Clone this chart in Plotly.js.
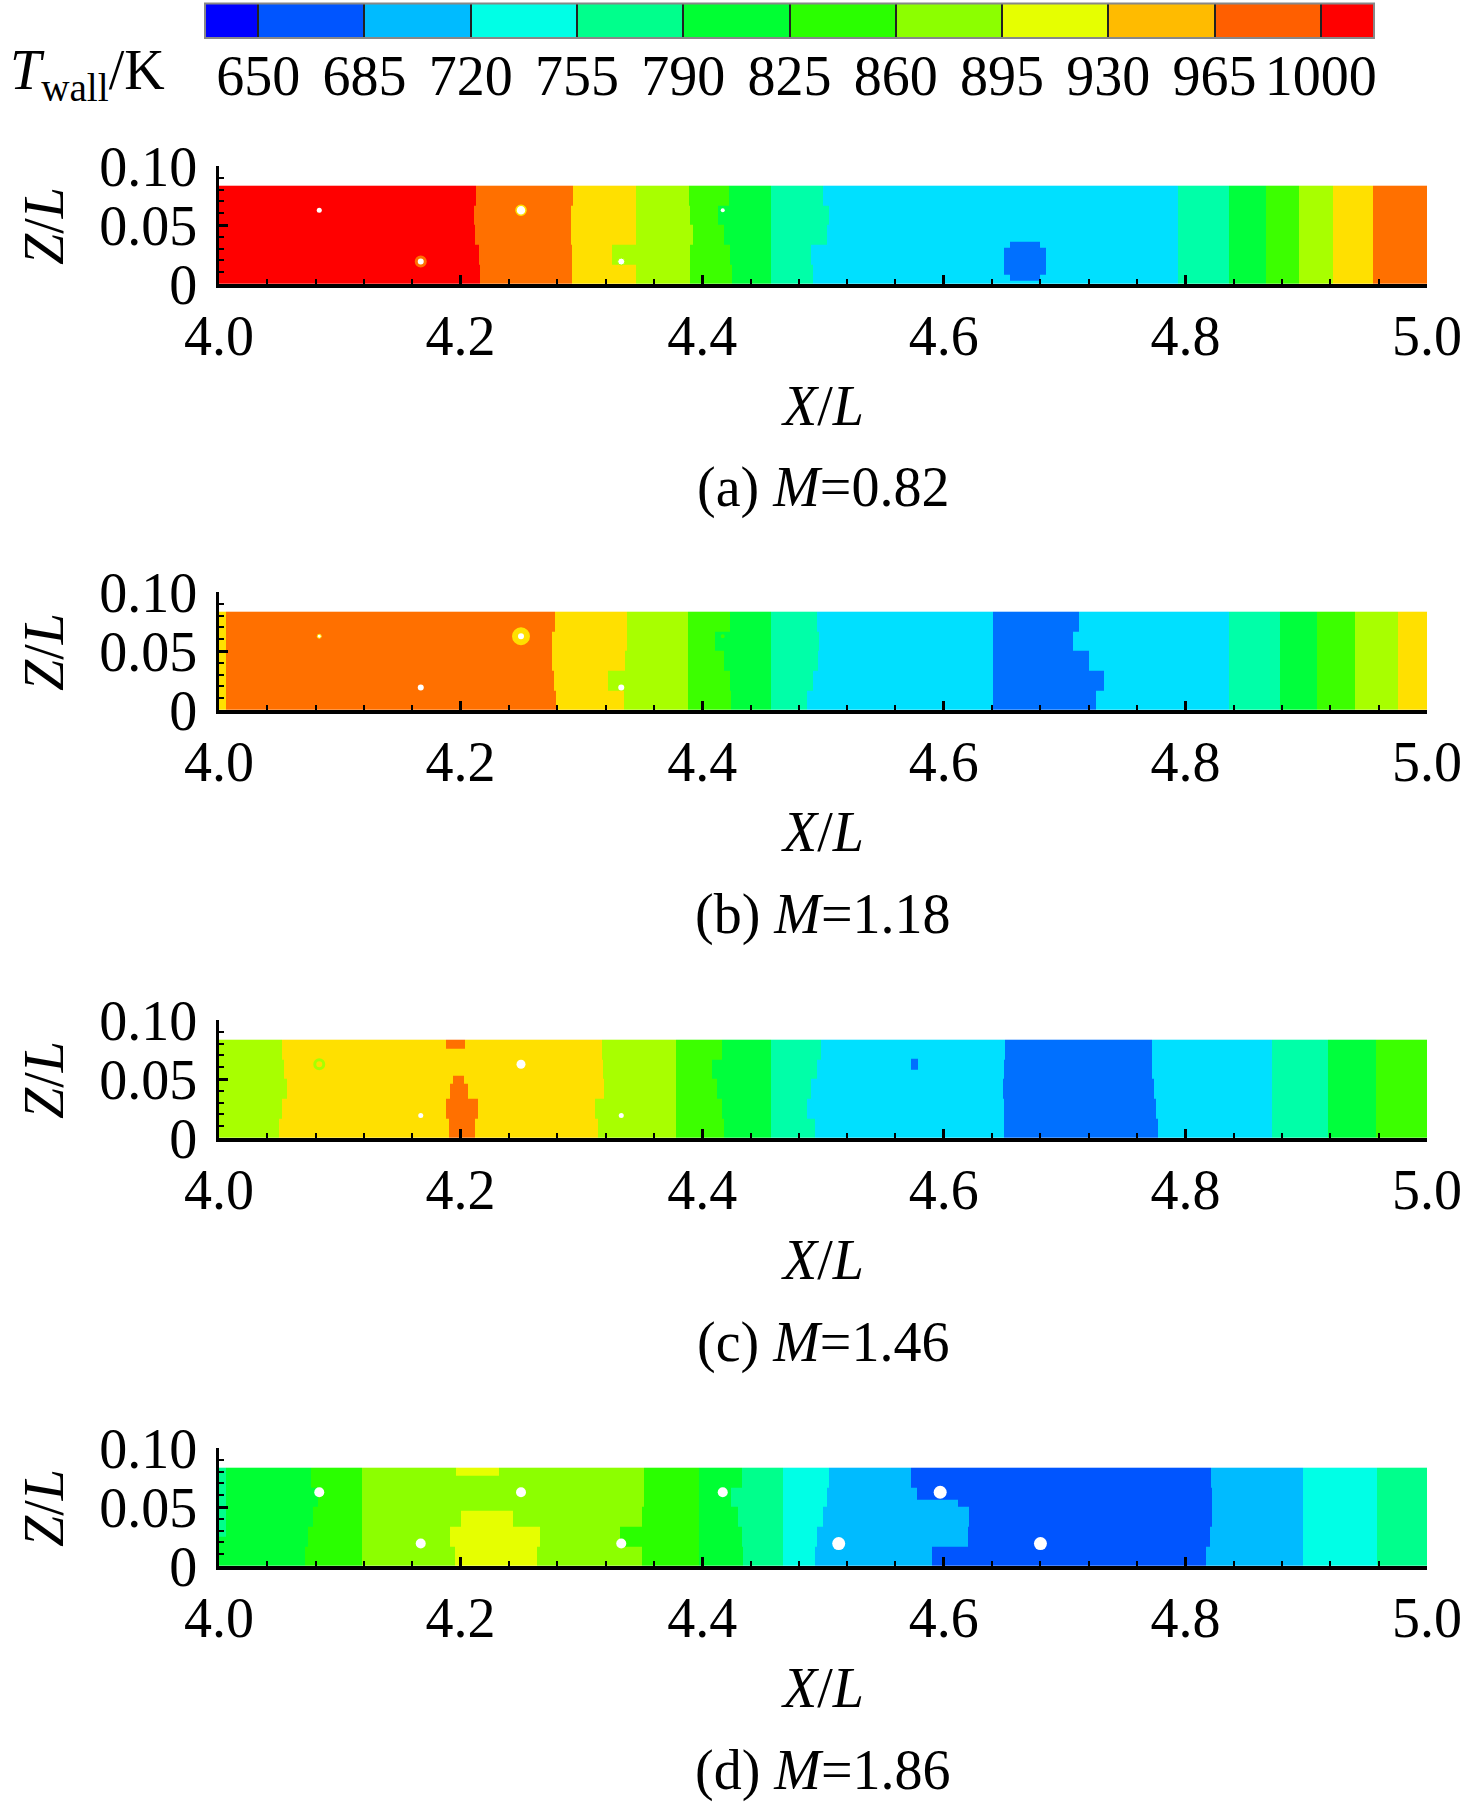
<!DOCTYPE html>
<html>
<head>
<meta charset="utf-8">
<script src="https://cdn.plot.ly/plotly-3.0.1.min.js"></script>
<style>html,body{margin:0;padding:0;background:#fff;}#chart{width:1476px;height:1808px;}</style>
</head>
<body>
<div id="chart"></div>
<script>
// ---------------- DATA ----------------
// Legend levels (K)
const LEVELS = [650, 685, 720, 755, 790, 825, 860, 895, 930, 965, 1000];
const LEGEND_COLORS = ['#0000FF','#0055FF','#00BBFF','#00FFE6','#00FF8C','#00FF33','#2AFF00','#8CFF00','#E6FF00','#FFBB00','#FF5F00','#FF0000'];
// shades used for the same bins in panels (a)-(c)
const PANEL_ABC_COLORS = ['#0000FF','#0000FF','#0038FF','#0070FF','#00E0FF','#00FFA8','#00FF3C','#3CFF00','#A8FF00','#FFE000','#FF7000','#FF0000'];

const ROW_EDGES = [0, 0.0167, 0.0333, 0.05, 0.0667, 0.0833]; // Z/L rows (bottom -> top)

// (a) M=0.82 : band temperature and its right-hand X/L edge in each row
const A_TEMPS = [1010, 982, 947, 912, 877, 842, 807, 772, 807, 842, 877, 912, 947, 982];
const A_ENDS = [
  [4.216, 4.215, 4.212, 4.211, 4.213],
  [4.292, 4.292, 4.291, 4.291, 4.293],
  [4.345, 4.325, 4.345, 4.345, 4.345],
  [4.390, 4.390, 4.392, 4.390, 4.389],
  [4.425, 4.423, 4.418, 4.413, 4.422],
  [4.457, 4.457, 4.457, 4.457, 4.457],
  [4.492, 4.490, 4.503, 4.505, 4.500],
  [4.794, 4.794, 4.794, 4.794, 4.794],
  [4.836, 4.836, 4.836, 4.836, 4.836],
  [4.867, 4.867, 4.867, 4.867, 4.867],
  [4.894, 4.894, 4.894, 4.894, 4.894],
  [4.922, 4.922, 4.922, 4.922, 4.922],
  [4.955, 4.955, 4.955, 4.955, 4.955],
  [5.000, 5.000, 5.000, 5.000, 5.000]
];
const A_PATCHES = [ // [x0, x1, z0, z1, T]
  [4.655, 4.680, 0.003, 0.036, 737],
  [4.650, 4.685, 0.008, 0.031, 737]
];

// (b) M=1.18
const B_TEMPS = [947, 982, 947, 912, 877, 842, 807, 772, 737, 772, 807, 842, 877, 912, 947];
const B_ENDS = [
  [4.006, 4.006, 4.006, 4.006, 4.006],
  [4.279, 4.277, 4.276, 4.276, 4.278],
  [4.335, 4.322, 4.336, 4.338, 4.338],
  [4.388, 4.388, 4.388, 4.388, 4.388],
  [4.424, 4.423, 4.418, 4.411, 4.423],
  [4.457, 4.457, 4.457, 4.457, 4.457],
  [4.487, 4.492, 4.496, 4.497, 4.495],
  [4.641, 4.641, 4.641, 4.641, 4.641],
  [4.726, 4.733, 4.720, 4.707, 4.712],
  [4.836, 4.836, 4.836, 4.836, 4.836],
  [4.878, 4.878, 4.878, 4.878, 4.878],
  [4.909, 4.909, 4.909, 4.909, 4.909],
  [4.940, 4.940, 4.940, 4.940, 4.940],
  [4.976, 4.976, 4.976, 4.976, 4.976],
  [5.000, 5.000, 5.000, 5.000, 5.000]
];
const B_PATCHES = [];

// (c) M=1.46
const C_TEMPS = [912, 947, 912, 877, 842, 807, 772, 737, 772, 807, 842, 877];
const C_ENDS = [
  [4.050, 4.052, 4.056, 4.054, 4.052],
  [4.314, 4.311, 4.319, 4.318, 4.317],
  [4.378, 4.378, 4.378, 4.378, 4.378],
  [4.418, 4.416, 4.412, 4.408, 4.416],
  [4.457, 4.457, 4.457, 4.457, 4.457],
  [4.493, 4.487, 4.490, 4.495, 4.498],
  [4.650, 4.650, 4.649, 4.650, 4.651],
  [4.777, 4.776, 4.774, 4.772, 4.772],
  [4.872, 4.872, 4.872, 4.872, 4.872],
  [4.918, 4.918, 4.918, 4.918, 4.918],
  [4.958, 4.958, 4.958, 4.958, 4.958],
  [5.000, 5.000, 5.000, 5.000, 5.000]
];
const C_PATCHES = [
  [4.190, 4.212, 0.000, 0.0167, 982],
  [4.188, 4.214, 0.0167, 0.0333, 982],
  [4.191, 4.206, 0.0333, 0.046, 982],
  [4.194, 4.203, 0.046, 0.053, 982],
  [4.188, 4.204, 0.076, 0.0833, 982],
  [4.573, 4.579, 0.058, 0.067, 737]
];

// (d) M=1.86
const D_TEMPS = [807, 842, 877, 842, 807, 772, 737, 702, 667, 702, 737, 772];
const D_ENDS = [
  [4.071, 4.074, 4.078, 4.082, 4.076],
  [4.118, 4.118, 4.118, 4.118, 4.118],
  [4.350, 4.332, 4.350, 4.352, 4.352],
  [4.397, 4.397, 4.397, 4.397, 4.397],
  [4.434, 4.433, 4.430, 4.424, 4.433],
  [4.467, 4.467, 4.467, 4.467, 4.467],
  [4.493, 4.495, 4.500, 4.503, 4.505],
  [4.590, 4.620, 4.621, 4.578, 4.573],
  [4.817, 4.820, 4.822, 4.822, 4.821],
  [4.897, 4.897, 4.897, 4.897, 4.897],
  [4.959, 4.959, 4.959, 4.959, 4.959],
  [5.000, 5.000, 5.000, 5.000, 5.000]
];
const D_PATCHES = [
  [4.000, 4.006, 0.025, 0.0833, 772],
  [4.195, 4.263, 0.000, 0.0167, 912],
  [4.191, 4.266, 0.0167, 0.0333, 912],
  [4.200, 4.243, 0.0333, 0.047, 912],
  [4.196, 4.232, 0.0767, 0.0833, 912],
  [4.578, 4.612, 0.050, 0.056, 702]
];

// cooling holes
const A_HOLE_X = [4.083, 4.167, 4.250, 4.333, 4.417];
const A_HOLE_Z = [0.0625, 0.019, 0.0625, 0.019, 0.0625];
const B_HOLE_X = [4.083, 4.167, 4.250, 4.333, 4.417];
const B_HOLE_Z = [0.0625, 0.019, 0.0625, 0.019, 0.0625];
const C_HOLE_X = [4.083, 4.167, 4.250, 4.333, 4.417];
const C_HOLE_Z = [0.0625, 0.019, 0.0625, 0.019, 0.0625];
const D_HOLE_X = [4.083, 4.167, 4.250, 4.333, 4.417, 4.513, 4.597, 4.680];
const D_HOLE_Z = [0.0625, 0.019, 0.0625, 0.019, 0.0625, 0.019, 0.0625, 0.019];

const X_TICKS = [4.0, 4.2, 4.4, 4.6, 4.8, 5.0];
const Z_TICKS = [0, 0.05, 0.10];
const Z_TICK_TEXT = ['0', '0.05', '0.10'];
const CAPTIONS = ['(a) <i>M</i>=0.82', '(b) <i>M</i>=1.18', '(c) <i>M</i>=1.46', '(d) <i>M</i>=1.86'];

// ---------------- BUILD ----------------
const FONT = 'Liberation Serif, Times New Roman, serif';
const FS = 56;
const W = 1476, H = 1808;
const BIN_LO = LEVELS[0] - 35, BIN_HI = LEVELS[LEVELS.length - 1] + 35;

function stepScale(colors) {
  const edges = [BIN_LO].concat(LEVELS, [BIN_HI]);
  const s = [];
  colors.forEach((c, i) => {
    s.push([(edges[i] - BIN_LO) / (BIN_HI - BIN_LO), c]);
    s.push([(edges[i + 1] - BIN_LO) / (BIN_HI - BIN_LO), c]);
  });
  return s;
}

function buildField(temps, ends, patches) {
  const xs = new Set([4.0]);
  ends.forEach(r => r.forEach(v => xs.add(v)));
  patches.forEach(p => { xs.add(p[0]); xs.add(p[1]); });
  const xe = [...xs].sort((a, b) => a - b);
  const ys = new Set(ROW_EDGES);
  patches.forEach(p => { ys.add(p[2]); ys.add(p[3]); });
  const ye = [...ys].sort((a, b) => a - b);
  const z = [];
  for (let j = 0; j < ye.length - 1; j++) {
    const cy = (ye[j] + ye[j + 1]) / 2;
    let r = 0;
    for (let k = 0; k < ROW_EDGES.length - 1; k++) if (cy >= ROW_EDGES[k] && cy < ROW_EDGES[k + 1]) r = k;
    const row = [];
    for (let i = 0; i < xe.length - 1; i++) {
      const cx = (xe[i] + xe[i + 1]) / 2;
      let k = ends.findIndex(e => cx < e[r]);
      if (k < 0) k = ends.length - 1;
      let v = temps[k];
      patches.forEach(p => { if (cx > p[0] && cx < p[1] && cy > p[2] && cy < p[3]) v = p[4]; });
      row.push(v);
    }
    z.push(row);
  }
  return { xe, ye, z };
}

const panels = [
  { temps: A_TEMPS, ends: A_ENDS, patches: A_PATCHES, hx: A_HOLE_X, hz: A_HOLE_Z, colors: PANEL_ABC_COLORS,
    hs: [5, 9, 10, 7, 4], hf: ['#fff','#fff','#fff','#fff','#fff'], hl: ['#fff','#FF7000','#FFE000','#A8FF00','#fff'], hw: [0, 3, 1.5, 1, 0] },
  { temps: B_TEMPS, ends: B_ENDS, patches: B_PATCHES, hx: B_HOLE_X, hz: B_HOLE_Z, colors: PANEL_ABC_COLORS,
    hs: [4, 6, 12, 6, 6], hf: ['#fff','#fff','#fff','#fff','#3CFF00'], hl: ['#FFE000','#fff','#FFE000','#fff','#00FF3C'], hw: [1, 0, 6, 0, 2] },
  { temps: C_TEMPS, ends: C_ENDS, patches: C_PATCHES, hx: C_HOLE_X, hz: C_HOLE_Z, colors: PANEL_ABC_COLORS,
    hs: [9, 5, 9, 5, 5], hf: ['#FFE000','#fff','#fff','#fff','#00FF3C'], hl: ['#A8FF00','#fff','#fff','#fff','#00FF3C'], hw: [3, 0, 0, 0, 0] },
  { temps: D_TEMPS, ends: D_ENDS, patches: D_PATCHES, hx: D_HOLE_X, hz: D_HOLE_Z, colors: LEGEND_COLORS,
    hs: [10, 10, 10, 10, 10, 13, 13, 13], hf: Array(8).fill('#fff'), hl: Array(8).fill('#fff'), hw: Array(8).fill(0) }
];

// pixel layout (from top)
const PLOT_L = 219, PLOT_R = 1427;
const PANEL_TOP = [166, 592, 1020, 1448];
const PANEL_H = 118;

const data = [];
const layout = {
  width: W, height: H,
  margin: { l: 0, r: 0, t: 0, b: 0 },
  paper_bgcolor: '#fff', plot_bgcolor: '#fff',
  showlegend: false,
  font: { family: FONT, size: FS, color: '#000' },
  annotations: [], shapes: []
};

panels.forEach((p, idx) => {
  const n = idx + 1;
  const xa = n === 1 ? 'x' : 'x' + n, ya = n === 1 ? 'y' : 'y' + n;
  const f = buildField(p.temps, p.ends, p.patches);
  data.push({
    type: 'heatmap', x: f.xe, y: f.ye, z: f.z, xaxis: xa, yaxis: ya,
    zmin: BIN_LO, zmax: BIN_HI, colorscale: stepScale(p.colors), showscale: false,
    zsmooth: false, hoverinfo: 'skip'
  });
  data.push({
    type: 'scatter', mode: 'markers', x: p.hx, y: p.hz, xaxis: xa, yaxis: ya,
    marker: { size: p.hs, color: p.hf, opacity: 1, line: { color: p.hl, width: p.hw } }, hoverinfo: 'skip'
  });
  const top = PANEL_TOP[idx], bot = top + PANEL_H;
  const dom = [1 - bot / H, 1 - top / H];
  layout['xaxis' + (n === 1 ? '' : n)] = {
    domain: [PLOT_L / W, PLOT_R / W], anchor: ya, range: [4, 5],
    tickvals: X_TICKS, ticktext: X_TICKS.map(v => v.toFixed(1)),
    showline: true, linecolor: '#000', linewidth: 3.5,
    ticks: 'inside', ticklen: 9, tickwidth: 3, tickcolor: '#000',
    minor: { dtick: 0.04, tick0: 4, ticks: 'inside', ticklen: 5, tickwidth: 2, tickcolor: '#000', showgrid: false },
    showgrid: false, zeroline: false, ticklabelstandoff: 0,
    tickfont: { family: FONT, size: FS, color: '#000' }, fixedrange: true
  };
  layout['yaxis' + (n === 1 ? '' : n)] = {
    domain: dom, anchor: xa, range: [0, 0.1],
    tickvals: Z_TICKS, ticktext: Z_TICK_TEXT,
    showline: true, linecolor: '#000', linewidth: 3.5,
    ticks: 'inside', ticklen: 9, tickwidth: 3, tickcolor: '#000',
    minor: { dtick: 0.01, tick0: 0, ticks: 'inside', ticklen: 5, tickwidth: 2, tickcolor: '#000', showgrid: false },
    showgrid: false, zeroline: false, ticklabelstandoff: 7,
    tickfont: { family: FONT, size: FS, color: '#000' }, fixedrange: true
  };
  const cx = (PLOT_L + PLOT_R) / 2 / W;
  layout.annotations.push({
    text: '<i>X</i>/<i>L</i>', xref: 'paper', yref: 'paper', x: cx, y: 1 - (bot + 122) / H,
    xanchor: 'center', yanchor: 'middle', showarrow: false, font: { family: FONT, size: FS, color: '#000' }
  });
  layout.annotations.push({
    text: CAPTIONS[idx], xref: 'paper', yref: 'paper', x: cx, y: 1 - (bot + 204) / H,
    xanchor: 'center', yanchor: 'middle', showarrow: false, font: { family: FONT, size: FS, color: '#000' }
  });
  layout.annotations.push({
    text: '<i>Z</i>/<i>L</i>', xref: 'paper', yref: 'paper', x: 44 / W, y: 1 - (top + 60) / H,
    xanchor: 'center', yanchor: 'middle', textangle: -90, showarrow: false,
    font: { family: FONT, size: FS, color: '#000' }
  });
});

// legend bar (subplot 5)
const legEdges = [BIN_LO + 17.5].concat(LEVELS, [BIN_HI - 17.5]);
const legTemps = [];
for (let i = 0; i < legEdges.length - 1; i++) legTemps.push((legEdges[i] + legEdges[i + 1]) / 2);
data.push({
  type: 'heatmap', x: legEdges, y: [0, 1], z: [legTemps], xaxis: 'x5', yaxis: 'y5',
  zmin: BIN_LO, zmax: BIN_HI, colorscale: stepScale(LEGEND_COLORS), showscale: false,
  xgap: 2, zsmooth: false, hoverinfo: 'skip'
});
layout.xaxis5 = {
  domain: [205 / W, 1374 / W], anchor: 'y5', range: [legEdges[0], legEdges[legEdges.length - 1]],
  tickvals: LEVELS, ticktext: LEVELS.map(String), ticks: '', showline: false, showgrid: false, zeroline: false,
  ticklabelstandoff: 0, tickfont: { family: FONT, size: FS, color: '#000' }, fixedrange: true
};
layout.yaxis5 = {
  domain: [1 - 38 / H, 1 - 3.5 / H], anchor: 'x5', range: [0, 1],
  showticklabels: false, ticks: '', showline: false, showgrid: false, zeroline: false, fixedrange: true
};
layout.shapes.push({ type: 'rect', xref: 'x5 domain', yref: 'y5 domain', x0: 0, x1: 1, y0: 0, y1: 1,
  fillcolor: '#222', line: { width: 0 }, layer: 'below' });
layout.shapes.push({ type: 'rect', xref: 'x5 domain', yref: 'y5 domain', x0: 0, x1: 1, y0: 0, y1: 1,
  fillcolor: 'rgba(0,0,0,0)', line: { color: '#888', width: 2 }, layer: 'above' });
layout.annotations.push({
  text: '<i>T</i><sub>wall</sub>/K', xref: 'paper', yref: 'paper', x: 8 / W, y: 1 - 74 / H,
  xanchor: 'left', yanchor: 'middle', showarrow: false, font: { family: FONT, size: FS, color: '#000' }
});

Plotly.newPlot('chart', data, layout, { staticPlot: true, displayModeBar: false });
</script>
</body>
</html>
